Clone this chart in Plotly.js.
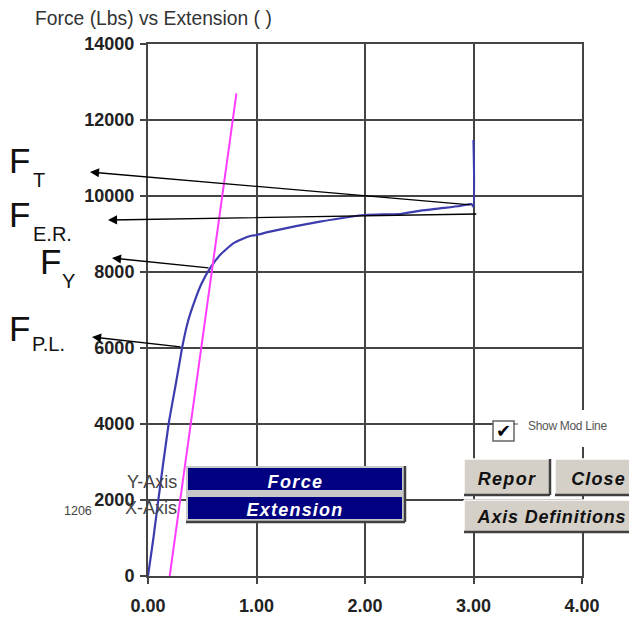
<!DOCTYPE html>
<html><head><meta charset="utf-8">
<script src="https://cdn.plot.ly/plotly-3.0.1.min.js"></script>
<style>html,body{margin:0;padding:0;background:#fff;}#chart{width:629px;height:618px;}</style>
</head><body><div id="chart"></div>
<script>
// ---- data ----
const extension = [0, 0.05, 0.095, 0.19, 0.253, 0.295, 0.316, 0.372, 0.433, 0.495, 0.571, 0.664, 0.786, 0.94, 1.0, 1.124, 1.585, 2.0, 2.32, 2.51, 2.69, 2.876, 2.98, 3.0, 3.0];
const force     = [0, 1000, 2000, 4000, 5000, 5684, 6035, 6737, 7263, 7702, 8096, 8447, 8755, 8947, 8974, 9061, 9324, 9500, 9526, 9614, 9675, 9737, 9790, 9720, 11474];
const modExtension = [0.20, 0.815];
const modForce = [0, 12700];
const xTickVals = [0, 1, 2, 3, 4];
const xTickText = ['0.00', '1.00', '2.00', '3.00', '4.00'];
const yTickVals = [0, 2000, 4000, 6000, 8000, 10000, 12000, 14000];
const yTickText = ['0', '2000', '4000', '6000', '8000', '10000', '12000', '14000'];
const pointSubscripts = ['T', 'E.R.', 'Y', 'P.L.'];
const arrowTailX = [2.986, 3.04, 0.571, 0.313];
const arrowTailY = [9763, 9526, 8105, 6026];
const arrowHeadX = [-0.535, -0.369, -0.332, -0.516];
const arrowHeadY = [10632, 9368, 8368, 6289];
const titleText = 'Force (Lbs) vs Extension ( )';

// ---- geometry helpers (pixel -> paper) ----
const W = 629, H = 618, L = 148, R = 582, T = 44, B = 576;
const px = x => (x - L) / (R - L);
const py = y => (B - y) / (B - T);
const FONT = 'Liberation Sans, Arial, sans-serif';
const shapes = [];
const annotations = [];
const spaced = [];

function rect(x0, y0, x1, y1, fill, line, lw) {
  shapes.push({type: 'rect', xref: 'paper', yref: 'paper', x0: px(x0), x1: px(x1), y0: py(y1), y1: py(y0),
    fillcolor: fill, line: {color: line || fill, width: lw === undefined ? 0 : lw}, layer: 'above'});
}
function seg(x0, y0, x1, y1, color, w) {
  shapes.push({type: 'line', xref: 'paper', yref: 'paper', x0: px(x0), x1: px(x1), y0: py(y0), y1: py(y1),
    line: {color: color, width: w}, layer: 'above'});
}
function text(t, x, y, size, opts) {
  opts = opts || {};
  if (opts.spacing) spaced.push([annotations.length, opts.spacing]);
  annotations.push({text: t, xref: 'paper', yref: 'paper', x: px(x), y: py(y), showarrow: false,
    xanchor: opts.xanchor || 'left', yanchor: 'middle', borderpad: 0, borderwidth: 0,
    font: {family: FONT, size: size, color: opts.color || '#000', weight: opts.weight || 'normal', style: opts.style || 'normal'}});
}
function grayButton(x0, y0, x1, y1) {
  rect(x0, y0, x1, y1, '#d4d0c8');
  seg(x0, y0, x1, y0, '#ffffff', 1.5);
  seg(x0, y0, x0, y1, '#ffffff', 1.5);
  seg(x0, y1, x1, y1, '#404040', 2.5);
  seg(x1, y0, x1, y1, '#404040', 2.5);
}

// arrows
for (let i = 0; i < arrowTailX.length; i++) {
  annotations.push({x: arrowHeadX[i], y: arrowHeadY[i], xref: 'x', yref: 'y', axref: 'x', ayref: 'y',
    ax: arrowTailX[i], ay: arrowTailY[i], text: '', showarrow: true, arrowhead: 2, arrowsize: 1.3,
    arrowwidth: 1.4, arrowcolor: '#000'});
}
// F labels
const fPos = [[9, 160, 33, 180], [9, 215, 33, 234], [40, 261, 62, 281], [9, 328, 32, 344]];
for (let i = 0; i < pointSubscripts.length; i++) {
  text('F', fPos[i][0], fPos[i][1], 35, {color: '#111'});
  text(pointSubscripts[i], fPos[i][2], fPos[i][3], 20, {color: '#111'});
}

// checkbox + label
rect(515, 410, 629, 447, '#ffffff');
rect(493, 421, 514, 441, '#ffffff', '#666', 1.5);
seg(514, 424, 518, 424, '#555', 1);
annotations.push({text: '✔', xref: 'paper', yref: 'paper', x: px(503.5), y: py(430), showarrow: false,
  xanchor: 'center', yanchor: 'middle', font: {family: 'DejaVu Sans', size: 18, color: '#000'}});
text('Show Mod Line', 567, 426, 12, {xanchor: 'center', color: '#555', spacing: -0.3});

// gray buttons
grayButton(464, 459, 550, 495);
grayButton(555, 459, 640, 495);
grayButton(464, 500, 640, 532);
text('Repor', 507, 479, 18, {xanchor: 'center', weight: 'bold', style: 'italic', color: '#111', spacing: 1.3});
text('Close', 598, 479, 18, {xanchor: 'center', weight: 'bold', style: 'italic', color: '#111', spacing: 1.1});
text('Axis Definitions', 551, 517, 18, {xanchor: 'center', weight: 'bold', style: 'italic', color: '#111', spacing: 0.8});

// navy axis selectors
rect(186, 466, 405, 522, '#c8c8c8');
seg(186, 522, 405, 522, '#404040', 2.5);
seg(405, 466, 405, 522, '#404040', 2.5);
rect(188, 468, 402, 490, '#000080');
rect(188, 497, 402, 519, '#000080');
text('Force', 295, 482, 18, {xanchor: 'center', weight: 'bold', style: 'italic', color: '#fff', spacing: 1.4});
text('Extension', 295, 510, 18, {xanchor: 'center', weight: 'bold', style: 'italic', color: '#fff', spacing: 1.2});
text('Y-Axis', 177, 482, 18, {xanchor: 'right', color: '#444'});
text('X-Axis', 177, 508, 18, {xanchor: 'right', color: '#444'});
text('1206', 64, 511, 12.5, {color: '#444'});

const traces = [
  {x: extension, y: force, type: 'scatter', mode: 'lines', line: {color: '#3c3cae', width: 2.2, shape: 'spline', smoothing: 0.5}, hoverinfo: 'skip', cliponaxis: false},
  {x: modExtension, y: modForce, type: 'scatter', mode: 'lines', line: {color: '#ff3cff', width: 2}, hoverinfo: 'skip'}
];

const axisCommon = {
  showgrid: true, gridcolor: '#444', gridwidth: 2,
  showline: true, linecolor: '#444', linewidth: 2, mirror: true,
  ticks: 'outside', ticklen: 6, tickwidth: 2, tickcolor: '#444',
  zeroline: false, tickmode: 'array', fixedrange: true,
  tickfont: {family: FONT, size: 18, weight: 'bold', color: '#222'}
};

const layout = {
  width: W, height: H, autosize: false,
  margin: {l: L, r: W - R, t: T, b: H - B, pad: 0},
  paper_bgcolor: '#fff', plot_bgcolor: '#fff',
  showlegend: false,
  title: {text: titleText, xref: 'container', yref: 'container', x: 35 / W, xanchor: 'left',
    y: 1 - 18 / H, yanchor: 'middle', font: {family: FONT, size: 19.3, color: '#333'}},
  xaxis: Object.assign({}, axisCommon, {range: [0, 4], tickvals: xTickVals, ticktext: xTickText, ticklabelstandoff: 6}),
  yaxis: Object.assign({}, axisCommon, {range: [0, 14000], tickvals: yTickVals, ticktext: yTickText, ticklabelstandoff: 2}),
  shapes: shapes,
  annotations: annotations
};

// letter spacing for button captions
const css = spaced.map(s => 'g.annotation[data-index="' + s[0] + '"] text{letter-spacing:' + s[1] + 'px;}').join('\n');
const st = document.createElement('style');
st.textContent = css;
document.head.appendChild(st);

Plotly.newPlot('chart', traces, layout, {displayModeBar: false, staticPlot: true});
</script>
</body></html>
